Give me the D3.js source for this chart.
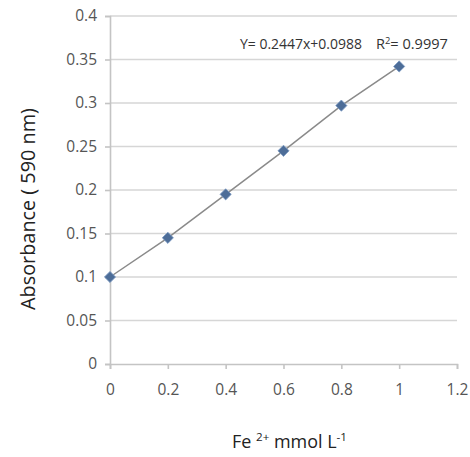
<!DOCTYPE html>
<html><head><meta charset="utf-8">
<script src="https://cdn.jsdelivr.net/npm/d3@7"></script>
<style>body{margin:0;background:#fff}svg{display:block}</style>
</head><body>
<svg id="c" width="470" height="457"></svg>
<script>
const xValues = [0, 0.2, 0.4, 0.6, 0.8, 1];
const absorbance = [0.1, 0.145, 0.195, 0.245, 0.297, 0.342];
const xTicks = [0, 0.2, 0.4, 0.6, 0.8, 1, 1.2];
const yTicks = [0, 0.05, 0.1, 0.15, 0.2, 0.25, 0.3, 0.35, 0.4];
const equationText = "Y= 0.2447x+0.0988";
const r2Value = "0.9997";

const svg = d3.select("#c");
const font = "'Open Sans', sans-serif";
const x = d3.scaleLinear().domain([0, 1.2]).range([110, 457]);
const y = d3.scaleLinear().domain([0, 0.4]).range([364, 16]);

function fit(sel, w) {
  const cur = sel.node().getComputedTextLength();
  const fs = parseFloat(sel.attr("font-size"));
  sel.attr("font-size", fs * w / cur);
  sel.selectAll("tspan").each(function () {
    const t = d3.select(this); const f = t.attr("font-size");
    if (f) t.attr("font-size", parseFloat(f) * w / cur);
  });
}

// gridlines
svg.append("g").selectAll("line").data(yTicks.filter(d => d > 0)).join("line")
  .attr("x1", x(0)).attr("x2", x(1.2))
  .attr("y1", d => y(d)).attr("y2", d => y(d))
  .attr("stroke", "#d6d6d6").attr("stroke-width", 1.6);

// y axis
const ya = svg.append("g").attr("transform", `translate(${x(0)},0)`)
  .call(d3.axisLeft(y).tickValues(yTicks).tickFormat(d => String(+d.toFixed(2))).tickSize(5).tickPadding(8));
// x axis
const xa = svg.append("g").attr("transform", `translate(0,${y(0)})`)
  .call(d3.axisBottom(x).tickValues(xTicks).tickFormat(d => String(+d.toFixed(1))).tickSize(5).tickPadding(15));
[ya, xa].forEach(a => {
  a.select(".domain").attr("stroke", "#c4c4c4").attr("stroke-width", 1.6);
  a.selectAll(".tick line").attr("stroke", "#c4c4c4").attr("stroke-width", 1.6);
  a.selectAll("text").attr("fill", "#555").attr("font-family", font).attr("font-size", 15.5);
});

// line
const pts = xValues.map((v, i) => [v, absorbance[i]]);
svg.append("path").datum(pts)
  .attr("d", d3.line().x(d => x(d[0])).y(d => y(d[1])))
  .attr("fill", "none").attr("stroke", "#8a8a8a").attr("stroke-width", 1.5);

// markers
svg.append("g").selectAll("path").data(pts).join("path")
  .attr("transform", d => `translate(${x(d[0])},${y(d[1])})`)
  .attr("d", d3.symbol().type(d3.symbolDiamond2).size(80))
  .attr("fill", "#4d6d98").attr("stroke", "#7d9cc4").attr("stroke-width", 0.8);

// equation
const eq = svg.append("text").attr("x", 240).attr("y", 49).attr("font-family", font).attr("font-size", 14)
  .attr("fill", "#333").text(equationText);
fit(eq, 122);
const r = svg.append("text").attr("x", 376).attr("y", 49).attr("font-family", font).attr("font-size", 14).attr("fill", "#333");
r.append("tspan").text("R");
r.append("tspan").attr("font-size", 9).attr("dy", -5).text("2");
r.append("tspan").attr("dy", 5).text("= " + r2Value);
fit(r, 72);

// axis titles
const xt = svg.append("text").attr("x", 232).attr("y", 448)
  .attr("font-family", font).attr("font-size", 17).attr("fill", "#222");
xt.append("tspan").text("Fe ");
xt.append("tspan").attr("font-size", 11).attr("dy", -7).text("2+");
xt.append("tspan").attr("dy", 7).text(" mmol L");
xt.append("tspan").attr("font-size", 11).attr("dy", -7).text("-1");
fit(xt, 115);

const yt = svg.append("text").attr("transform", "translate(35,209) rotate(-90)").attr("text-anchor", "middle")
  .attr("font-family", font).attr("font-size", 18).attr("fill", "#222").text("Absorbance ( 590 nm)");
fit(yt, 202);
</script>
</body></html>
